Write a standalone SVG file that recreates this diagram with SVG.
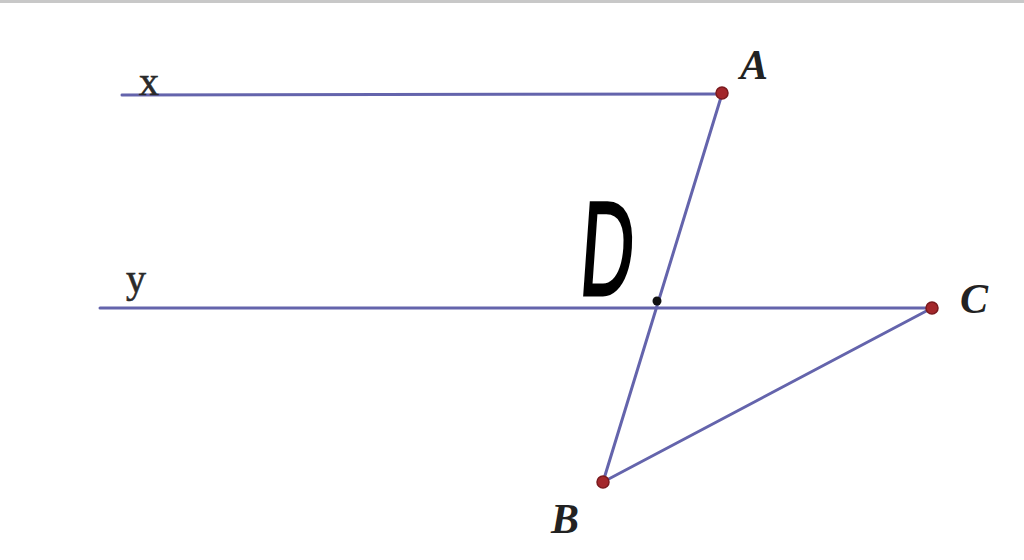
<svg xmlns="http://www.w3.org/2000/svg" width="1024" height="560" viewBox="0 0 1024 560">
<style>
.ln{stroke:#6464ac;stroke-width:3;fill:none;stroke-linecap:round}
.pt{fill:#a3272b;stroke:#7a1a1e;stroke-width:1.5}
.lab{font-family:"Liberation Serif",serif;font-weight:bold;font-style:italic;font-size:42px;fill:#222}
.var{font-family:"Liberation Serif",serif;font-size:40px;fill:#2a2a2a;stroke:#2a2a2a;stroke-width:0.6}
</style>
<rect x="0" y="0" width="1024" height="560" fill="#ffffff"/>
<rect x="0" y="0" width="1024" height="3" fill="#c8c8c8"/>
<g id="connectors">
<line class="ln" x1="122" y1="95" x2="722" y2="94"/>
<line class="ln" x1="100" y1="308" x2="932" y2="308"/>
<line class="ln" x1="722" y1="94" x2="603" y2="482"/>
<line class="ln" x1="603" y1="482" x2="932" y2="308"/>
</g>
<g id="line-x"><text class="var" x="139" y="95">x</text></g>
<g id="line-y"><text class="var" x="126" y="292">y</text></g>
<g id="A"><circle class="pt" cx="722" cy="93" r="6"/><text class="lab" x="740" y="79">A</text></g>
<g id="C"><circle class="pt" cx="932" cy="308" r="6"/><text class="lab" x="960" y="313">C</text></g>
<g id="B"><circle class="pt" cx="603" cy="482" r="6"/><text class="lab" x="551" y="533">B</text></g>
<g id="D"><circle cx="657" cy="301" r="4.5" fill="#111"/>
<text transform="translate(578,295) skewX(-4) scale(0.55,1)" x="0" y="0" font-family="Liberation Sans, sans-serif" font-size="134" fill="#000" stroke="#000" stroke-width="3">D</text></g>
</svg>
